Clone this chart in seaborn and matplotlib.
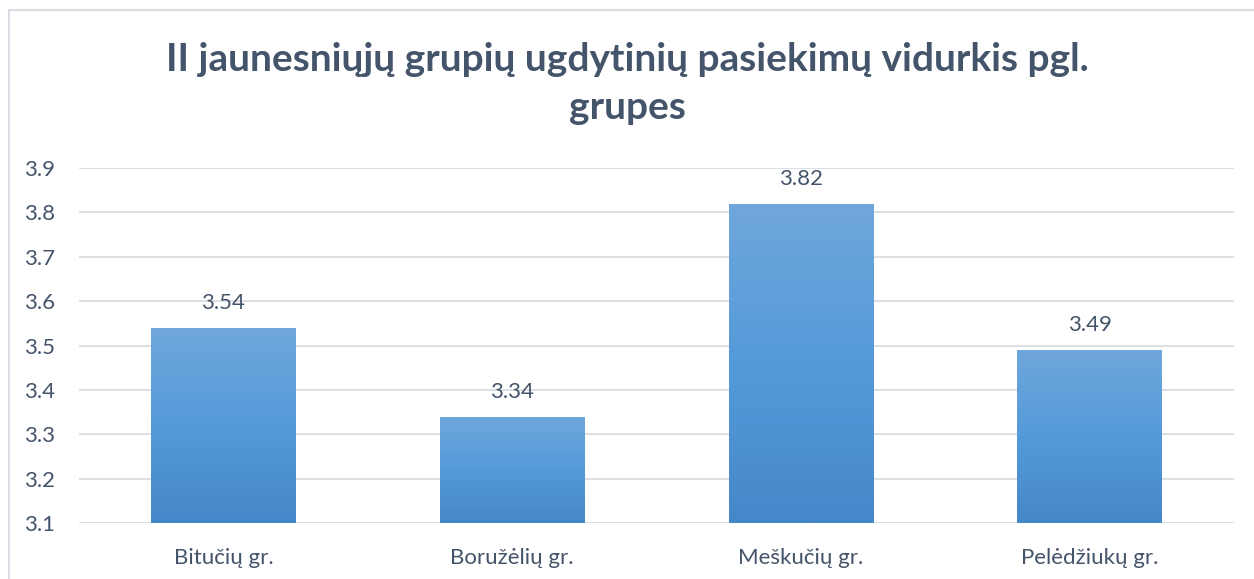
import numpy as np
import pandas as pd
import matplotlib
matplotlib.use("Agg")
import matplotlib.pyplot as plt
import seaborn as sns
from matplotlib.lines import Line2D
from matplotlib.colors import LinearSegmentedColormap

# data
groups = ["Bitučių gr.", "Boružėlių gr.", "Meškučių gr.", "Pelėdžiukų gr."]
averages = [3.54, 3.34, 3.82, 3.49]
y_ticks = [3.1, 3.2, 3.3, 3.4, 3.5, 3.6, 3.7, 3.8, 3.9]

df = pd.DataFrame({"grupe": groups, "vidurkis": averages})

sns.set_style("white")
plt.rcParams["font.family"] = ["Lato", "DejaVu Sans"]

text_col = "#44546A"
fig = plt.figure(figsize=(12.54, 5.79), dpi=100)
ax = fig.add_axes([0.063, 0.0967, 0.921, 0.6131])

sns.barplot(data=df, x="grupe", y="vidurkis", color="#5B9BD5", width=0.5,
            ax=ax, zorder=2)
ax.set_ylim(3.1, 3.9)
ax.set_xlim(-0.5, 3.5)
ax.set_yticks(y_ticks)
ax.set_yticklabels([f"{t:.1f}" for t in y_ticks])
ax.yaxis.grid(True, color="#D9DDE3", linewidth=1.3, zorder=0)
ax.set_axisbelow(True)
for s in ax.spines.values():
    s.set_visible(False)
ax.set_xlabel("")
ax.set_ylabel("")
ax.tick_params(axis="both", length=0, labelsize=16, colors=text_col)
ax.tick_params(axis="x", pad=18)
ax.tick_params(axis="y", pad=17)

# gradient fill for bars
cmap = LinearSegmentedColormap.from_list("g", ["#4588C9", "#549AD9", "#70A7DC"])
grad = np.linspace(0, 1, 256).reshape(-1, 1)
for p in ax.patches:
    x0, y0 = p.get_x(), p.get_y()
    w, h = p.get_width(), p.get_height()
    p.set_facecolor("none")
    p.set_edgecolor("none")
    im = ax.imshow(grad, cmap=cmap, origin="lower", aspect="auto",
                   extent=[x0, x0 + w, max(y0, 3.1), y0 + h], zorder=2)
    im.set_clip_path(p)

for i, v in enumerate(averages):
    ax.text(i, v + 0.033, f"{v:.2f}", ha="center", va="bottom",
            fontsize=16, color=text_col)

ax.set_xlim(-0.5, 3.5)
ax.set_ylim(3.1, 3.9)

fig.text(0.5, 0.855, "II jaunesniųjų grupių ugdytinių pasiekimų vidurkis pgl.\ngrupes",
         ha="center", va="center", fontsize=28, fontweight="bold",
         color=text_col, linespacing=1.45)

# chart frame (left and top edges visible)
fig.add_artist(Line2D([9 / 1254, 9 / 1254], [0, 1 - 10 / 579], color="#D9DDE3",
                      linewidth=1.5, transform=fig.transFigure))
fig.add_artist(Line2D([9 / 1254, 1], [1 - 10 / 579, 1 - 10 / 579], color="#D9DDE3",
                      linewidth=1.5, transform=fig.transFigure))

fig.savefig("out.png", dpi=100)
